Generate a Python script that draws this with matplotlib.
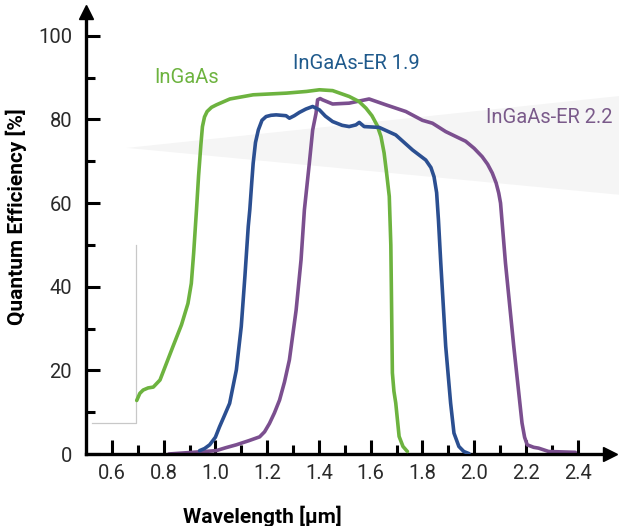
import matplotlib.pyplot as plt
import numpy as np

plt.rcParams['font.family'] = ['Roboto', 'DejaVu Sans']

# quantum efficiency curves, wavelength in um, QE in %
ingaas_wl = [0.696, 0.708, 0.721, 0.74, 0.76, 0.786, 0.811, 0.836, 0.869, 0.894,
             0.907, 0.916, 0.927, 0.935, 0.944, 0.950, 0.958, 0.968, 0.985, 1.004,
             1.056, 1.146, 1.275, 1.352, 1.402, 1.453, 1.517, 1.555, 1.582, 1.605,
             1.625, 1.640, 1.652, 1.662, 1.672, 1.678, 1.680, 1.684, 1.690, 1.697,
             1.710, 1.725, 1.742]
ingaas_qe = [12.8, 14.5, 15.3, 15.8, 16.0, 17.7, 21.7, 25.7, 30.9, 36.0,
             40.8, 48.0, 58.4, 66.5, 74.0, 78.3, 80.6, 81.9, 82.9, 83.5,
             84.9, 85.9, 86.3, 86.7, 87.1, 86.9, 85.5, 84.3, 82.7, 80.9,
             78.6, 75.9, 72.0, 67.0, 61.6, 50.0, 40.0, 19.4, 15.0, 12.2,
             4.2, 1.8, 0.6]

er19_wl = [0.939, 0.958, 0.978, 1.000, 1.016, 1.035, 1.055, 1.081, 1.100, 1.114,
           1.127, 1.133, 1.140, 1.146, 1.155, 1.166, 1.180, 1.196, 1.215, 1.235,
           1.273, 1.286, 1.305, 1.325, 1.350, 1.376, 1.402, 1.425, 1.453, 1.490,
           1.517, 1.543, 1.556, 1.575, 1.633, 1.697, 1.762, 1.813, 1.833, 1.845,
           1.855, 1.862, 1.871, 1.890, 1.909, 1.922, 1.941, 1.960, 1.980]
er19_qe = [0.8, 1.3, 2.2, 4.0, 6.5, 9.2, 12.1, 20.1, 30.5, 42.4,
           54.4, 58.4, 64.5, 69.5, 74.5, 77.5, 79.8, 80.7, 81.0, 81.1,
           80.9, 80.3, 80.9, 81.7, 82.5, 83.1, 82.3, 80.8, 79.5, 78.6,
           78.3, 78.7, 79.3, 78.3, 78.1, 76.3, 72.7, 70.3, 68.5, 66.3,
           62.5, 56.0, 45.7, 25.8, 12.2, 5.0, 1.8, 0.6, 0.1]

er22_wl = [0.82, 1.003, 1.040, 1.081, 1.130, 1.171, 1.190, 1.209, 1.228, 1.248,
           1.267, 1.286, 1.312, 1.331, 1.344, 1.363, 1.376, 1.389, 1.395, 1.405,
           1.414, 1.453, 1.517, 1.594, 1.659, 1.736, 1.800, 1.839, 1.890, 1.930,
           1.967, 2.000, 2.031, 2.052, 2.070, 2.085, 2.095, 2.102, 2.121, 2.153,
           2.185, 2.195, 2.205, 2.230, 2.249, 2.288, 2.391]
er22_qe = [0.0, 0.8, 1.5, 2.2, 3.2, 4.1, 5.3, 7.3, 9.8, 12.9,
           17.2, 22.5, 34.4, 46.4, 58.4, 69.5, 77.5, 81.5, 84.7, 85.0,
           84.7, 83.7, 83.9, 84.9, 83.5, 81.9, 79.8, 79.1, 77.1, 75.9,
           74.8, 73.1, 71.1, 69.3, 67.2, 64.8, 62.4, 60.0, 45.7, 25.8,
           7.4, 4.0, 2.2, 1.6, 1.4, 0.6, 0.4]

x_ticks = [0.6, 0.8, 1.0, 1.2, 1.4, 1.6, 1.8, 2.0, 2.2, 2.4]
y_ticks = [0, 20, 40, 60, 80, 100]

green = '#6db33f'
blue = '#2b4f91'
purple = '#7b4f8f'

fig = plt.figure(figsize=(6.19, 5.26), dpi=100)
ax = fig.add_axes([86 / 619, 1 - 454 / 526, (610 - 86) / 619, (454 - 12) / 526])
ax.set_xlim(0.5, 2.525)
ax.set_ylim(0, 105.7)

# light grey wedge behind the curves
ax.fill([0.658, 2.56, 2.56], [73.2, 85.6, 62.0], color='#f5f5f5', lw=0, zorder=0,
        clip_on=False)
# thin grey frame fragment at the left
ax.plot([0.523, 0.693, 0.693], [7.4, 7.4, 50.0], color='#c8c8c8', lw=0.9, zorder=1)

line_kw = dict(lw=2.6, solid_capstyle='round', solid_joinstyle='round')
ax.plot(er22_wl, er22_qe, color=purple, zorder=2, **line_kw)
ax.plot(ingaas_wl, ingaas_qe, color=green, zorder=3, **line_kw)
ax.plot(er19_wl, er19_qe, color=blue, zorder=3, **line_kw)

ax.text(0.89, 90.0, 'InGaAs', color='#6db33f', fontsize=14.5, ha='center', va='center')
ax.text(1.546, 93.5, 'InGaAs-ER 1.9', color='#1f5a8c', fontsize=14.5, ha='center',
        va='center')
ax.text(2.292, 80.4, 'InGaAs-ER 2.2', color='#7a5a8a', fontsize=14.5, ha='center',
        va='center', clip_on=False)

for side in ['top', 'right']:
    ax.spines[side].set_visible(False)
for side in ['left', 'bottom']:
    ax.spines[side].set_linewidth(2.4)
    ax.spines[side].set_capstyle('projecting')

# arrow heads on the axes
ax.plot(1.0, 0, marker='>', color='k', ms=10, transform=ax.transAxes, clip_on=False)
ax.plot(0, 1.0, marker='^', color='k', ms=10, transform=ax.transAxes, clip_on=False)

ax.set_xticks(x_ticks)
ax.set_xticklabels([f'{v:.1f}' for v in x_ticks])
ax.set_xticks(np.arange(0.7, 2.35, 0.2), minor=True)
ax.set_yticks(y_ticks)
ax.set_yticks([10, 30, 50, 70, 90], minor=True)

ax.tick_params(axis='both', which='major', direction='in', length=10, width=2.2,
               labelsize=14.5, colors='k', labelcolor='#2a2a2a')
ax.tick_params(axis='both', which='minor', direction='in', length=6.5, width=2.2)
ax.tick_params(axis='x', which='major', pad=7)
ax.tick_params(axis='y', which='major', pad=10)

fig.text(262 / 619, 1 - 516 / 526, 'Wavelength [µm]', fontsize=15, fontweight='bold',
         ha='center', va='center')
fig.text(16 / 619, 1 - 217 / 526, 'Quantum Efficiency [%]', fontsize=15,
         fontweight='bold', ha='center', va='center', rotation=90)

fig.savefig('out.png', dpi=100)
